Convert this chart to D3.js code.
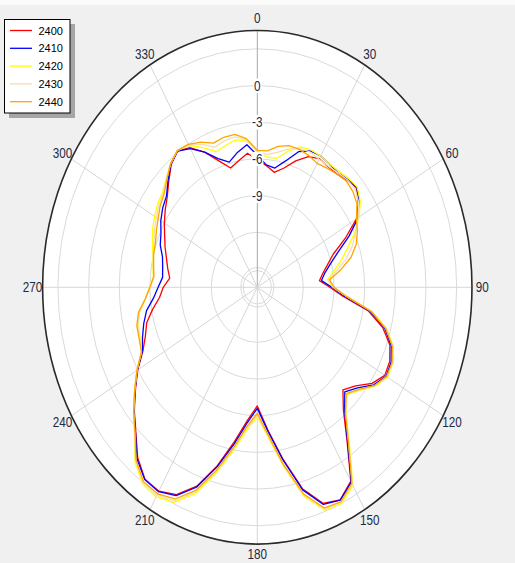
<!DOCTYPE html>
<html><head><meta charset="utf-8">
<script src="https://cdn.jsdelivr.net/npm/d3@7"></script>
<style>body{margin:0;background:#f0f0f0;}svg{display:block;}</style>
</head><body>
<script>
const angles = d3.range(0, 360, 5);
const seriesNames = ["2400","2410","2420","2430","2440"];
const seriesColors = ["#ff0000","#0000ff","#ffff00","#f5deb3","#ffa500"];
const s2400 = [-6.1,-6.5,-6.95,-6.4,-5.5,-4.7,-4.35,-4.45,-4.4,-4.1,-3.85,-4.45,-5.3,-7.0,-8.6,-9.4,-10.0,-10.4,-9.4,-8.1,-5.5,-3.8,-2.7,-2.2,-2.1,-2.8,-3.95,-4.65,-3.4,-1.2,1.8,2.68,2.3,0.55,-2.3,-4.8,-6.8,-5.6,-3.7,-1.4,0.8,2.2,2.75,2.65,1.7,0.3,-0.8,-1.95,-3.0,-4.15,-4.85,-5.3,-6.1,-6.9,-7.3,-7.9,-7.6,-7.3,-6.9,-6.5,-6.0,-5.5,-5.0,-4.25,-3.4,-2.9,-3.3,-4.3,-5.5,-6.4,-6.0,-5.5];
const s2410 = [-5.7,-6.45,-6.6,-5.8,-4.7,-4.2,-4.1,-4.2,-4.25,-4.0,-3.8,-4.35,-5.1,-6.6,-8.1,-9.1,-9.8,-10.2,-9.2,-7.9,-5.3,-3.6,-2.55,-2.05,-1.95,-2.6,-3.7,-4.4,-3.2,-1.1,1.9,2.7,2.4,0.65,-2.2,-4.7,-6.6,-5.4,-3.5,-1.3,0.9,2.3,2.8,2.7,1.8,0.35,-0.75,-1.9,-2.95,-4.1,-4.55,-5.0,-5.5,-6.3,-6.8,-7.2,-7.1,-6.9,-6.4,-6.1,-5.6,-5.2,-4.9,-4.15,-3.35,-2.9,-3.4,-4.3,-5.3,-5.9,-5.3,-4.8];
const s2420 = [-5.4,-5.8,-5.8,-5.0,-4.27,-4.1,-4.1,-4.2,-4.1,-3.9,-3.75,-4.2,-5.0,-6.0,-7.1,-8.0,-8.9,-9.6,-9.1,-7.7,-5.1,-3.4,-2.35,-1.85,-1.8,-2.4,-3.4,-4.1,-3.0,-0.8,2.2,3.0,2.9,1.2,-1.6,-4.2,-5.9,-4.8,-2.9,-0.7,1.5,2.9,3.3,3.1,2.1,0.5,-0.7,-1.85,-2.9,-4.0,-4.3,-4.45,-4.8,-5.5,-5.95,-6.3,-6.1,-5.9,-5.6,-5.2,-4.9,-4.6,-4.4,-3.9,-3.3,-2.85,-3.1,-3.9,-4.7,-4.5,-4.25,-4.5];
const s2430 = [-5.35,-5.6,-5.3,-4.8,-4.4,-4.3,-4.4,-4.4,-4.25,-4.05,-4.0,-4.4,-5.1,-5.9,-6.6,-7.5,-8.6,-9.5,-9.05,-7.7,-5.15,-3.45,-2.4,-1.9,-1.85,-2.45,-3.45,-4.15,-3.05,-0.9,2.1,2.9,2.8,1.1,-1.7,-4.3,-6.0,-4.95,-3.05,-0.85,1.35,2.75,3.15,3.0,2.0,0.45,-0.7,-1.85,-2.9,-4.0,-4.25,-4.4,-4.75,-5.5,-6.0,-6.3,-6.15,-5.95,-5.75,-5.4,-5.1,-4.75,-4.5,-3.95,-3.3,-2.85,-3.05,-3.6,-4.3,-4.1,-4.0,-4.4];
const s2440 = [-5.3,-5.3,-4.8,-4.5,-4.5,-4.6,-4.8,-4.6,-4.4,-4.2,-4.3,-4.6,-5.3,-5.7,-6.2,-7.0,-8.2,-9.4,-9.0,-7.7,-5.2,-3.5,-2.45,-1.95,-1.9,-2.5,-3.5,-4.2,-3.1,-0.95,2.0,2.85,2.7,1.0,-1.8,-4.4,-6.2,-5.1,-3.2,-1.0,1.2,2.6,3.0,2.9,1.95,0.4,-0.7,-1.85,-2.9,-4.0,-4.2,-4.3,-4.7,-5.5,-6.0,-6.35,-6.2,-6.0,-5.9,-5.6,-5.3,-4.9,-4.6,-4.0,-3.3,-2.85,-3.0,-3.4,-3.95,-3.8,-3.8,-4.3];
const seriesValues = [s2400, s2410, s2420, s2430, s2440];
const ringLevels = [-12, -9, -6, -3, 0, 3];
const radialLabels = [0, -3, -6, -9];
const angleTicks = d3.range(0, 360, 30);

const W = 515, H = 563;
const cx = 257.3, cy = 287.3, sx = 0.836;
const rScale = d3.scaleLinear().domain([-16.5, 4.5]).range([0, 256.8]);

const svg = d3.select("body").append("svg").attr("width", W).attr("height", H);
svg.append("rect").attr("width", W).attr("height", H).attr("fill", "#f0f0f0");
svg.append("rect").attr("width", W).attr("height", 5).attr("fill", "#fbfbfb");

const g = svg.append("g").attr("transform", `translate(${cx},${cy}) scale(${sx},1)`);
const rad = d => d * Math.PI / 180;

// plot area
g.append("circle").attr("r", rScale(4.5)).attr("fill", "#ffffff");

// rings
g.selectAll(".ring").data(ringLevels).join("circle")
  .attr("r", d => rScale(d)).attr("fill", "none")
  .attr("stroke", "#dadada").attr("stroke-width", 1)
  .attr("vector-effect", "non-scaling-stroke");
[16.7, 19.7].forEach(r => g.append("circle").attr("r", r).attr("fill", "none")
  .attr("stroke", "#dadada").attr("vector-effect", "non-scaling-stroke"));

// spokes
g.selectAll(".spoke").data(angleTicks).join("line")
  .attr("x1", 0).attr("y1", 0)
  .attr("x2", d => rScale(4.5) * Math.sin(rad(d)))
  .attr("y2", d => -rScale(4.5) * Math.cos(rad(d)))
  .attr("stroke", d => d === 0 ? "#a8a8a8" : "#d6d6d6").attr("stroke-width", 1)
  .attr("vector-effect", "non-scaling-stroke");

// outer border
g.append("circle").attr("r", rScale(4.5)).attr("fill", "none")
  .attr("stroke", "#2a2a2a").attr("stroke-width", 1.6)
  .attr("vector-effect", "non-scaling-stroke");

// series
const lineGen = d3.lineRadial()
  .angle((d, i) => rad(angles[i]))
  .radius(d => rScale(d))
  .curve(d3.curveLinearClosed);
seriesValues.forEach((vals, k) => {
  g.append("path").datum(vals).attr("d", lineGen)
    .attr("fill", "none").attr("stroke", seriesColors[k]).attr("stroke-width", 1.3)
    .attr("stroke-linejoin", "round")
    .attr("vector-effect", "non-scaling-stroke");
});

// radial labels
radialLabels.forEach(v => {
  const y = -rScale(v);
  const t = g.append("text").attr("x", 0).attr("y", y).attr("dy", "0.36em")
    .attr("text-anchor", "middle").attr("font-family", "Liberation Sans, Arial, sans-serif")
    .attr("font-size", 14).attr("fill", "#1e2a44").text(v);
  const bb = t.node().getBBox();
  g.insert("rect", "text").attr("x", bb.x - 1).attr("y", bb.y + 1).attr("width", bb.width + 2)
    .attr("height", bb.height - 2).attr("fill", "#ffffff");
});
g.selectAll("text").raise();

// angle labels
g.selectAll(".alabel").data(angleTicks).join("text")
  .attr("x", d => 269 * Math.sin(rad(d)))
  .attr("y", d => -(d === 180 ? 267 : 269) * Math.cos(rad(d)))
  .attr("dy", "0.36em").attr("text-anchor", "middle")
  .attr("font-family", "Liberation Sans, Arial, sans-serif").attr("font-size", 14)
  .attr("fill", "#1e2a44").text(d => d);

// legend
const lg = svg.append("g");
lg.append("rect").attr("x", 9).attr("y", 24).attr("width", 66).attr("height", 94).attr("fill", "#a6a6a6");
lg.append("rect").attr("x", 4.5).attr("y", 19.5).attr("width", 65.5).attr("height", 93.5)
  .attr("fill", "#ffffff").attr("stroke", "#000").attr("stroke-width", 1);
seriesNames.forEach((n, i) => {
  const y = 30.5 + i * 17.8;
  lg.append("line").attr("x1", 10).attr("x2", 32).attr("y1", y).attr("y2", y)
    .attr("stroke", seriesColors[i]).attr("stroke-width", 1.3);
  lg.append("text").attr("x", 38.5).attr("y", y + 4).attr("font-family", "Liberation Sans, Arial, sans-serif")
    .attr("font-size", 11).attr("fill", "#000").text(n);
});
</script>
</body></html>
